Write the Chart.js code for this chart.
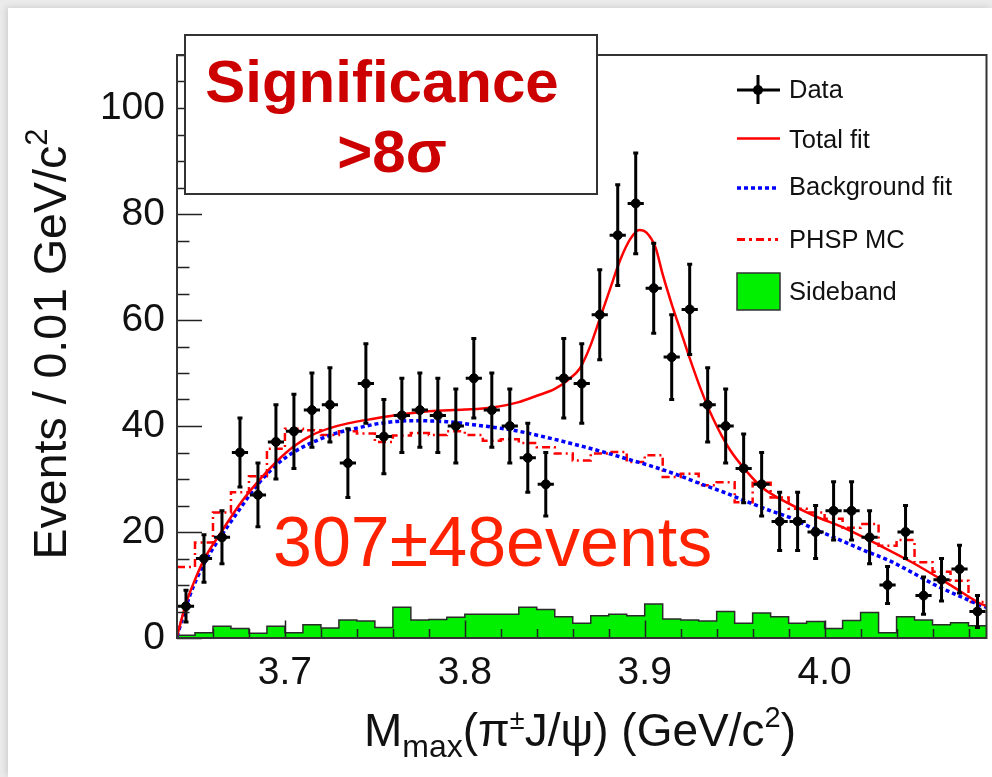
<!DOCTYPE html>
<html>
<head>
<meta charset="utf-8">
<title>M_max(π±J/ψ) fit</title>
<script src="https://cdn.jsdelivr.net/npm/chart.js@4.4.1/dist/chart.umd.min.js"></script>
<style>
  html, body { margin: 0; padding: 0; background: #ebebeb; overflow: hidden; }
  #page { position: absolute; left: 8px; top: 8px; width: 984px; height: 769px; background: #fff; box-shadow: -2px -1px 6px rgba(0,0,0,0.12); }
  #wrap { position: absolute; left: 0; top: 0; width: 992px; height: 777px; }
  #overlay { position: absolute; left: 0; top: 0; pointer-events: none; }
  #overlay text { font-family: "Liberation Sans", Arial, Helvetica, sans-serif; }
</style>
</head>
<body>
<div id="page"></div>
<div id="wrap"><canvas id="chart"></canvas></div>

<svg id="overlay" width="992" height="777" xmlns="http://www.w3.org/2000/svg">
  <!-- significance box -->
  <rect x="185" y="35" width="412" height="159" fill="#fff" stroke="#333" stroke-width="2"/>
  <text x="382" y="102" text-anchor="middle" font-size="60" font-weight="bold" fill="#cc0000">Significance</text>
  <text x="392" y="172" text-anchor="middle" font-size="60" font-weight="bold" fill="#cc0000">&gt;8σ</text>

  <!-- legend -->
  <line x1="737" y1="90" x2="780" y2="90" stroke="#000" stroke-width="3"/>
  <line x1="758" y1="75" x2="758" y2="104" stroke="#000" stroke-width="3"/>
  <circle cx="758" cy="90" r="5" fill="#000"/>
  <text x="789" y="98" font-size="25.5" fill="#111">Data</text>
  <line x1="737" y1="138.5" x2="780" y2="138.5" stroke="#ff0000" stroke-width="2.5"/>
  <text x="789" y="148" font-size="25.5" fill="#111">Total fit</text>
  <line x1="737" y1="188" x2="778" y2="188" stroke="#0000ff" stroke-width="3.5" stroke-dasharray="4 3"/>
  <text x="789" y="195" font-size="25.5" fill="#111">Background fit</text>
  <line x1="737" y1="239.5" x2="778" y2="239.5" stroke="#ff0000" stroke-width="3" stroke-dasharray="8 4 3 4"/>
  <text x="789" y="248" font-size="25.5" fill="#111">PHSP MC</text>
  <rect x="737" y="273" width="43" height="37" fill="#00f000" stroke="#333" stroke-width="1.5"/>
  <text x="789" y="300" font-size="25.5" fill="#111">Sideband</text>

  <!-- signal yield -->
  <text x="273" y="566" font-size="70" fill="#ff2200">307±48events</text>

  <!-- axis titles -->
  <text x="364" y="746" font-size="46" fill="#111">M<tspan font-size="32" dy="11">max</tspan><tspan dy="-11">(π</tspan><tspan font-size="27" dy="-17">±</tspan><tspan dy="17">J/ψ) (GeV/c</tspan><tspan font-size="29" dy="-19">2</tspan><tspan dy="19">)</tspan></text>
  <text transform="translate(66,344) rotate(-90)" text-anchor="middle" font-size="46.5" fill="#111">Events / 0.01 GeV/c<tspan font-size="31" dy="-19">2</tspan></text>
</svg>

<script>
// bin centres, 0.01 GeV/c^2 wide
const massCenters = [
  3.645, 3.655, 3.665, 3.675, 3.685, 3.695, 3.705, 3.715, 3.725, 3.735,
  3.745, 3.755, 3.765, 3.775, 3.785, 3.795, 3.805, 3.815, 3.825, 3.835,
  3.845, 3.855, 3.865, 3.875, 3.885, 3.895, 3.905, 3.915, 3.925, 3.935,
  3.945, 3.955, 3.965, 3.975, 3.985, 3.995, 4.005, 4.015, 4.025, 4.035,
  4.045, 4.055, 4.065, 4.075, 4.085
];
const dataCounts = [
  6, 15, 19, 35, 27, 37, 39, 43, 44, 33,
  48, 38, 42, 43, 42, 40, 49, 43, 40, 34,
  29, 49, 48, 61, 76, 82, 66, 53, 62, 44,
  40, 32, 29, 22, 22, 20, 24, 24, 19, 10,
  20, 8, 11, 13, 5
];
const dataErr = [
  3, 4.5, 5, 6.5, 6, 7, 7, 7, 7, 6.5,
  7.5, 7, 7, 7, 7, 7, 7.5, 7, 7, 6.5,
  6, 7.5, 7.5, 8.5, 9.5, 9.5, 8.5, 8, 8.5, 7,
  7, 6.5, 6, 5.5, 5.5, 5, 5.5, 5.5, 5, 3.5,
  5, 3.5, 4, 4.5, 3
];
const sidebandCounts = [
  0.5, 1.0, 2.2, 1.8, 0.9, 2.2, 1.0, 2.5, 1.9, 3.4,
  3.2, 2.0, 5.8, 3.4, 3.5, 3.9, 4.5, 4.5, 4.5, 5.8,
  5.4, 4.0, 2.8, 4.2, 4.5, 4.2, 6.4, 3.6, 3.4, 3.2,
  5.0, 2.8, 4.7, 4.0, 2.8, 3.1, 1.8, 3.3, 4.8, 1.0,
  4.0, 3.4, 2.5, 2.9, 2.3
];
const phspCounts = [
  13.4, 18.0, 23.7, 27.5, 30.5, 35.7, 39.5, 39.2, 38.3, 39.0,
  38.6, 37.0, 38.2, 38.7, 38.3, 39.0, 38.3, 37.2, 37.5, 36.8,
  36.0, 34.8, 33.5, 34.8, 35.1, 33.2, 34.5, 30.4, 31.0, 28.8,
  29.4, 25.6, 29.3, 26.5, 24.4, 23.7, 22.5, 20.8, 21.5, 17.4,
  18.5, 14.3, 12.5, 10.8, 6.8
];
const totalFitX = [
  3.640, 3.645, 3.650, 3.655, 3.665, 3.675, 3.685, 3.695, 3.705, 3.715,
  3.725, 3.735, 3.750, 3.765, 3.780, 3.800, 3.815, 3.830, 3.840, 3.850,
  3.857, 3.864, 3.870, 3.875, 3.881, 3.886, 3.892, 3.897, 3.901, 3.906,
  3.910, 3.915, 3.920, 3.925, 3.931, 3.938, 3.947, 3.957, 3.966, 3.975,
  3.994, 4.012, 4.031, 4.049, 4.068, 4.086, 4.090
];
const totalFitY = [
  0.3, 6.5, 11.0, 14.8, 20.2, 25.3, 29.5, 33.2, 36.2, 38.3,
  39.6, 40.5, 41.4, 42.2, 42.8, 43.1, 43.5, 44.5, 45.7, 47.0,
  48.6, 50.9, 55.3, 60.2, 66.1, 71.0, 75.3, 77.0, 76.5, 73.7,
  68.6, 63.0, 57.9, 52.8, 47.1, 41.4, 35.7, 31.3, 28.2, 26.3,
  23.1, 20.6, 17.4, 14.2, 10.4, 6.6, 6.0
];
const bkgFitX = [
  3.640, 3.647, 3.655, 3.664, 3.673, 3.684, 3.695, 3.706, 3.718, 3.729,
  3.740, 3.753, 3.770, 3.790, 3.808, 3.827, 3.846, 3.866, 3.879, 3.892,
  3.905, 3.918, 3.931, 3.944, 3.957, 3.970, 3.981, 3.994, 4.003, 4.025,
  4.036, 4.049, 4.062, 4.075, 4.088, 4.090
];
const bkgFitY = [
  0.3, 7.9, 14.0, 19.0, 23.4, 28.6, 32.6, 35.3, 37.3, 38.7,
  39.6, 40.5, 41.0, 40.8, 40.1, 39.2, 37.8, 36.1, 34.9, 33.6,
  32.3, 30.8, 29.1, 27.5, 25.7, 24.0, 22.7, 20.6, 19.3, 16.1,
  14.6, 12.3, 9.9, 7.9, 6.0, 5.8
];
const xTicks = [3.7, 3.8, 3.9, 4.0];
const yTicks = [0, 20, 40, 60, 80, 100];

const X_MIN = 3.64, X_MAX = 4.09, Y_MAX = 110;
const BIN_W = 0.01;
const FONT = '"Liberation Sans", Arial, Helvetica, sans-serif';

// histogram outline: two points per bin (low edge, high edge)
function stepPoints(vals) {
  const pts = [];
  massCenters.forEach((c, i) => {
    pts.push({ x: c - BIN_W / 2, y: vals[i] });
    pts.push({ x: c + BIN_W / 2, y: vals[i] });
  });
  return pts;
}
const pairs = (xs, ys) => xs.map((x, i) => ({ x, y: ys[i] }));

// error bars under the markers, ROOT-like frame + inward ticks on top of the datasets
const rootStyle = {
  id: "rootStyle",
  beforeDatasetDraw(chart, args) {
    if (args.index !== 0) return;
    const { ctx, scales: { x, y } } = chart;
    ctx.save();
    ctx.strokeStyle = "#000";
    ctx.lineWidth = 3;
    massCenters.forEach((c, i) => {
      const px = x.getPixelForValue(c);
      const py = y.getPixelForValue(dataCounts[i]);
      const top = y.getPixelForValue(dataCounts[i] + dataErr[i]);
      const bot = y.getPixelForValue(Math.max(0, dataCounts[i] - dataErr[i]));
      const xl = x.getPixelForValue(c - BIN_W * 0.45);
      const xr = x.getPixelForValue(c + BIN_W * 0.45);
      ctx.beginPath();
      ctx.moveTo(px, top); ctx.lineTo(px, bot);
      ctx.moveTo(xl, py); ctx.lineTo(xr, py);
      ctx.moveTo(px - 2.5, top); ctx.lineTo(px + 2.5, top);
      ctx.moveTo(px - 2.5, bot); ctx.lineTo(px + 2.5, bot);
      ctx.stroke();
    });
    ctx.restore();
  },
  afterDatasetsDraw(chart) {
    const { ctx, chartArea: a, scales: { x, y } } = chart;
    ctx.save();
    ctx.strokeStyle = "#222";
    ctx.lineWidth = 1.5;
    ctx.beginPath();
    // y ticks every 5, major every 20
    for (let v = 0; v <= Y_MAX; v += 5) {
      const py = Math.round(y.getPixelForValue(v)) + 0.5;
      const len = v % 20 === 0 ? 25 : 12.5;
      ctx.moveTo(a.left, py); ctx.lineTo(a.left + len, py);
    }
    // x ticks every 0.02, major every 0.1
    for (let k = 182; k <= 204; k++) {
      const px = Math.round(x.getPixelForValue(k * 0.02)) + 0.5;
      const len = k % 5 === 0 ? 17.5 : 9;
      ctx.moveTo(px, a.bottom); ctx.lineTo(px, a.bottom - len);
    }
    ctx.stroke();
    ctx.lineWidth = 2;
    ctx.strokeStyle = "#333";
    ctx.strokeRect(a.left, a.top, a.right - a.left, a.bottom - a.top);
    ctx.restore();
  }
};

new Chart(document.getElementById("chart"), {
  type: "line",
  data: {
    datasets: [
      {
        label: "Data", type: "scatter",
        data: pairs(massCenters, dataCounts),
        pointRadius: 4.5, pointBackgroundColor: "#000", pointBorderColor: "#000",
        showLine: false, order: 1
      },
      {
        label: "Total fit",
        data: pairs(totalFitX, totalFitY),
        borderColor: "#ff0000", borderWidth: 2.5, pointRadius: 0,
        cubicInterpolationMode: "monotone", order: 2
      },
      {
        label: "Background fit",
        data: pairs(bkgFitX, bkgFitY),
        borderColor: "#0000ff", borderWidth: 3.5, borderDash: [4, 3], pointRadius: 0,
        cubicInterpolationMode: "monotone", order: 3
      },
      {
        label: "PHSP MC",
        data: stepPoints(phspCounts),
        borderColor: "#ff0000", borderWidth: 2.5, borderDash: [8, 4, 2, 4], pointRadius: 0,
        order: 4
      },
      {
        label: "Sideband",
        data: stepPoints(sidebandCounts),
        borderColor: "#2a2a2a", borderWidth: 1.5, backgroundColor: "#00f000",
        fill: "origin", pointRadius: 0, order: 5
      }
    ]
  },
  options: {
    responsive: true, maintainAspectRatio: false, animation: false,
    layout: { padding: { top: 55, right: 5, left: 0, bottom: 0 } },
    plugins: { legend: { display: false }, tooltip: { enabled: false } },
    scales: {
      x: {
        type: "linear", min: X_MIN, max: X_MAX,
        afterBuildTicks: (s) => { s.ticks = xTicks.map(v => ({ value: v })); },
        afterFit: (s) => { s.height = 139; },
        grid: { display: false }, border: { display: false },
        ticks: {
          font: { family: FONT, size: 39 }, color: "#111", padding: 4,
          maxRotation: 0, autoSkip: false,
          callback: (v) => Number(v).toFixed(1)
        }
      },
      y: {
        min: 0, max: Y_MAX,
        afterBuildTicks: (s) => { s.ticks = yTicks.map(v => ({ value: v })); },
        afterFit: (s) => { s.width = 177; },
        grid: { display: false }, border: { display: false },
        ticks: { font: { family: FONT, size: 39 }, color: "#111", padding: 4 }
      }
    }
  },
  plugins: [rootStyle]
});
</script>
</body>
</html>
